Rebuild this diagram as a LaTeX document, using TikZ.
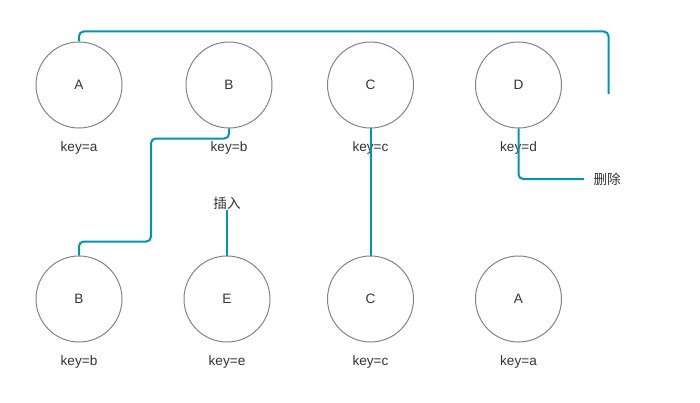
\documentclass[tikz,border=0pt]{standalone}
\usepackage{fontspec}
\setmainfont{Liberation Sans}
\newfontfamily\cjk{Noto Sans CJK SC}
\definecolor{linkblue}{RGB}{0,150,178}
\definecolor{ringgray}{RGB}{130,130,130}
\definecolor{txt}{RGB}{51,51,51}
\begin{document}
\begin{tikzpicture}
[x=0.75pt, y=-0.75pt, font=\fontsize{10.2}{12}\selectfont, text=txt,
 ring/.style={circle, draw=ringgray, line width=0.75pt, minimum size=86*0.75pt, inner sep=0pt},
 lbl/.style={inner sep=0pt},
 link/.style={draw=linkblue, line width=1.5pt, rounded corners=3.5pt}]
\useasboundingbox (0,0) rectangle (700,403);
\node [ring] (a1) at (79,85) {A};
\node [ring] (b1) at (229,85) {B};
\node [ring] (c1) at (370.5,85) {C};
\node [ring] (d1) at (518.5,85) {D};
\node [lbl] at (79,147.5) {key=a};
\node [lbl] at (229,147.5) {key=b};
\node [lbl] at (370.5,147.5) {key=c};
\node [lbl] at (518.5,147.5) {key=d};
\node [ring] (b2) at (79,299) {B};
\node [ring] (e2) at (227,299) {E};
\node [ring] (c2) at (370.5,299) {C};
\node [ring] (a2) at (518.5,299) {A};
\node [lbl] at (79,361.5) {key=b};
\node [lbl] at (227,361.5) {key=e};
\node [lbl] at (370.5,361.5) {key=c};
\node [lbl] at (518.5,361.5) {key=a};
\node [lbl, font=\cjk\fontsize{10.2}{12}\selectfont] (ins) at (227,203) {插入};
\node [anchor=west, inner sep=7pt, font=\cjk\fontsize{10.2}{12}\selectfont] (del) at (584,179) {删除};
\coordinate (tail) at (608.5,94);
\draw [link] (a1.north) -- ++(0,-10) -| (tail);
\draw [link] (b1.south) -- ++(0,10) -| (151,241.5) -| (b2.north);
\draw [link] (c1.south) -- (c2.north);
\draw [link] (d1.south) |- (del.west);
\draw [link] (e2.north) -- (ins.south);
\end{tikzpicture}
\end{document}
